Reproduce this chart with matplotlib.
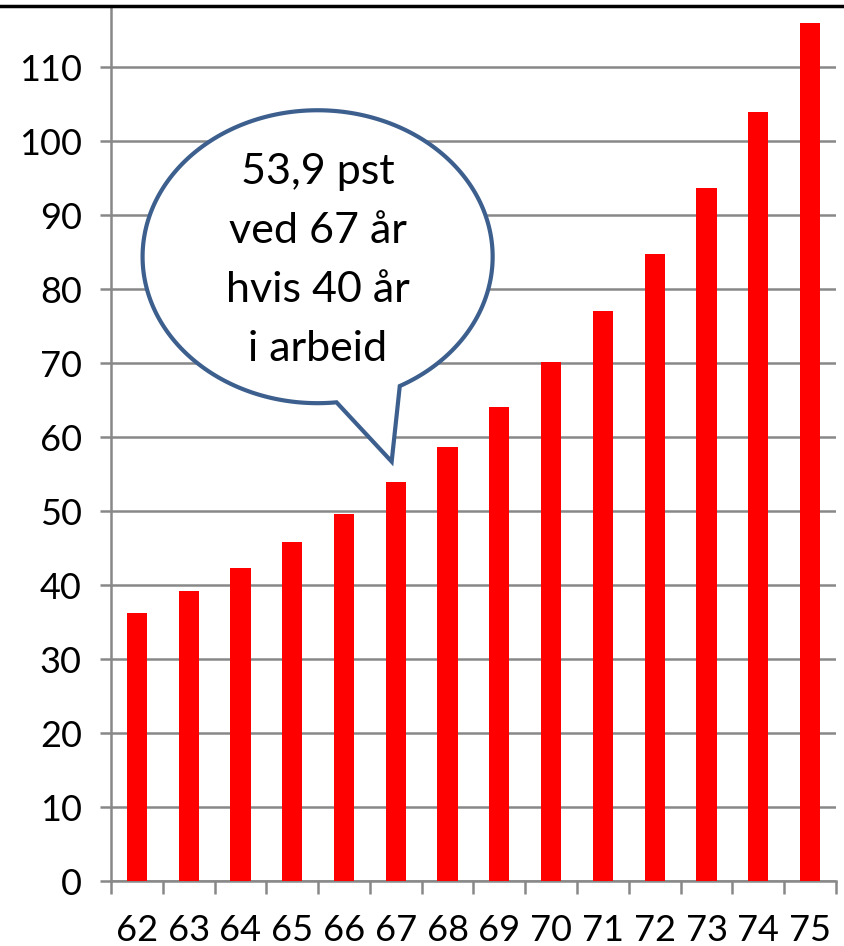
import numpy as np
import matplotlib
matplotlib.use("Agg")
import matplotlib.pyplot as plt
from matplotlib.patches import Polygon
from matplotlib.lines import Line2D

plt.rcParams["font.family"] = ["Lato", "DejaVu Sans"]

# alder ved uttak og verdi
ages = ["62", "63", "64", "65", "66", "67", "68", "69", "70", "71", "72", "73", "74", "75"]
values = [36.3, 39.2, 42.3, 45.8, 49.6, 53.9, 58.7, 64.1, 70.2, 77.0, 84.8, 93.7, 104.0, 116.0]
yticks = [0, 10, 20, 30, 40, 50, 60, 70, 80, 90, 100, 110]
bubble_text = "53,9 pst\nved 67 år\nhvis 40 år\ni arbeid"

fig = plt.figure(figsize=(8.44, 9.46), dpi=100)
ax = fig.add_axes([0.1315, 0.0687, 0.859, 0.925])

x = np.arange(len(ages))
ax.bar(x, values, width=0.39, color="#ff0000", zorder=3)

ax.set_xlim(-0.5, len(ages) - 0.5)
ax.set_ylim(0, 118.3)

grid_col = "#888888"
ax.set_yticks(yticks)
ax.yaxis.grid(True, color=grid_col, linewidth=1.8, zorder=0)
ax.tick_params(axis="y", labelsize=26, length=8, width=1.8, color=grid_col, pad=13)

ax.set_xticks(x)
ax.set_xticklabels(ages)
ax.set_xticks(np.arange(len(ages) + 1) - 0.5, minor=True)
ax.tick_params(axis="x", which="major", length=0, labelsize=26, pad=24)
ax.tick_params(axis="x", which="minor", length=9, width=1.8, color=grid_col)

for side in ["top", "right"]:
    ax.spines[side].set_visible(False)
for side in ["left", "bottom"]:
    ax.spines[side].set_color(grid_col)
    ax.spines[side].set_linewidth(1.8)

# svart linje øverst
fig.add_artist(Line2D([0, 1], [0.9937, 0.9937], color="black", linewidth=2.5,
                      transform=fig.transFigure))

# snakkeboble
cx, cy, ra, rb = 3.49, 84.4, 3.38, 19.8
t = np.radians(np.linspace(-62, 276.2, 300))
pts = np.column_stack([cx + ra * np.cos(t), cy + rb * np.sin(t)])
pts = np.vstack([pts, [4.92, 56.7]])
ax.add_patch(Polygon(pts, closed=True, facecolor="white", edgecolor="#3c5f8e",
                     linewidth=3, zorder=5, joinstyle="miter"))
ax.text(cx, cy - 0.5, bubble_text, ha="center", va="center", fontsize=31,
        linespacing=1.68, zorder=6)

fig.savefig("out.png", dpi=100)
